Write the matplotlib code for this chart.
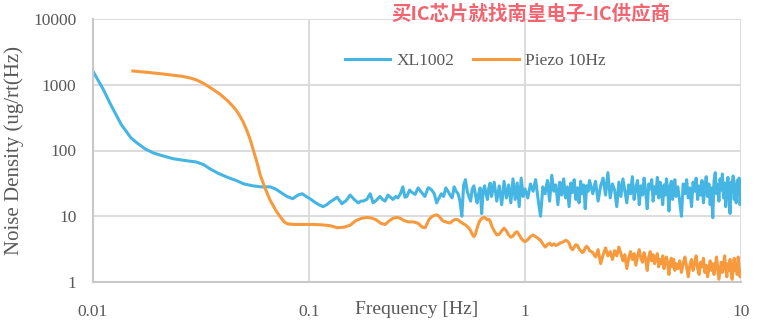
import matplotlib
matplotlib.use('Agg')
import matplotlib.pyplot as plt
import numpy as np

# XL1002 accelerometer noise density, smooth low-frequency part
xl_freq_low = [0.010, 0.0112, 0.012, 0.0135, 0.015, 0.016, 0.0175, 0.019, 0.021, 0.0235,
               0.027, 0.030, 0.0325, 0.035, 0.038, 0.042, 0.046, 0.050, 0.055, 0.060,
               0.066, 0.070, 0.074, 0.079, 0.084, 0.089, 0.093, 0.097, 0.101, 0.106,
               0.111, 0.116, 0.121, 0.125, 0.129, 0.135, 0.142, 0.149, 0.155, 0.162,
               0.169, 0.174, 0.178, 0.185, 0.192, 0.198, 0.205, 0.213, 0.219, 0.225,
               0.232, 0.238, 0.245, 0.252, 0.258, 0.265, 0.272, 0.278, 0.284, 0.292,
               0.300, 0.310, 0.320, 0.332, 0.344, 0.356]
xl_low = [1600, 830, 520, 250, 155, 130, 105, 92, 83, 75,
          70, 67, 61, 52, 45, 39, 35, 31, 29, 28,
          28, 26, 23, 20, 18.5, 21, 22, 20, 18.5, 16.5,
          15, 14, 15, 16.5, 17.5, 19.5, 15.5, 17.5, 21, 18,
          16, 17, 17, 18, 22, 16, 17.5, 20, 18, 17,
          21, 19.5, 18, 20, 19, 22, 28, 19.5, 20, 25,
          23, 21.5, 27, 23, 20, 27]

# Piezo 10Hz sensor, smooth low-frequency part
pz_freq_low = [0.0153, 0.018, 0.021, 0.0234, 0.026, 0.0281, 0.030, 0.0323, 0.035, 0.0387,
               0.042, 0.045, 0.047, 0.0495, 0.0516, 0.0535, 0.0551, 0.0575, 0.0594, 0.0625,
               0.066, 0.070, 0.0733, 0.0765, 0.0792, 0.085, 0.095, 0.105, 0.115, 0.125,
               0.135, 0.145, 0.155, 0.165, 0.175, 0.185, 0.195, 0.205, 0.215, 0.225,
               0.235, 0.245, 0.255, 0.265, 0.275, 0.290, 0.305, 0.320, 0.335, 0.345]
pz_low = [1620, 1540, 1460, 1400, 1340, 1270, 1190, 1060, 900, 720,
          570, 450, 370, 275, 200, 145, 105, 65, 43, 27,
          17.7, 12.5, 10, 8.3, 7.7, 7.5, 7.5, 7.5, 7.4, 7.2,
          6.7, 6.8, 7.3, 8.6, 9.3, 9.6, 9.4, 8.8, 7.8, 7.5,
          8.5, 9.3, 9.6, 9.3, 8.6, 8.2, 8.2, 7.8, 6.8, 6.7]

# shared frequency bins for the noisy part of both spectra
freq_high = [0.36, 0.37, 0.38, 0.39, 0.40, 0.41, 0.42, 0.43, 0.44, 0.45, 0.46, 0.47, 0.48, 0.49, 0.50,
             0.51, 0.52, 0.53, 0.54, 0.55, 0.56, 0.57, 0.58, 0.59, 0.60,
             0.61, 0.62, 0.63, 0.64, 0.65, 0.66, 0.67, 0.68, 0.69, 0.70,
             0.72, 0.74, 0.76, 0.78, 0.80, 0.82, 0.84, 0.86, 0.88, 0.90, 0.92, 0.94, 0.96, 0.98, 1.00,
             1.03, 1.06, 1.09, 1.12, 1.15, 1.18, 1.21, 1.24, 1.27, 1.30, 1.33, 1.36, 1.39, 1.42, 1.45,
             1.48, 1.51, 1.54, 1.57, 1.60, 1.63, 1.66, 1.69, 1.72, 1.75, 1.78, 1.81, 1.84, 1.87, 1.90,
             1.93, 1.96, 1.99,
             2.06, 2.12, 2.18, 2.24, 2.30, 2.36, 2.42, 2.48, 2.54, 2.60, 2.66, 2.72, 2.78, 2.84, 2.90,
             2.96, 3.02, 3.08, 3.14, 3.20, 3.26, 3.32, 3.38, 3.44, 3.50, 3.56, 3.62, 3.68, 3.74, 3.80,
             3.86, 3.92, 3.98, 4.04, 4.10, 4.16, 4.22, 4.28, 4.34, 4.40, 4.46, 4.52, 4.58, 4.64, 4.70,
             4.76, 4.82, 4.88, 4.94, 5.00,
             5.1, 5.2, 5.3, 5.4, 5.5, 5.6, 5.7, 5.8, 5.9, 6.0, 6.1, 6.2, 6.3, 6.4, 6.5, 6.6, 6.7,
             6.8, 6.9, 7.0, 7.1, 7.2, 7.3, 7.4, 7.5, 7.6, 7.7, 7.8, 7.9, 8.0, 8.1, 8.2, 8.3, 8.4,
             8.5, 8.6, 8.7, 8.8, 8.9, 9.0, 9.1, 9.2, 9.3, 9.4, 9.5, 9.6, 9.7, 9.8, 9.9, 10.0]

xl_high = [27, 25, 22, 16, 19, 22, 20, 27, 24, 21, 19, 28, 24, 22, 17,
           10, 30, 36, 24, 20, 17, 26, 29, 21, 16,
           22, 27, 11, 24, 29, 22, 18, 27, 32, 20,
           33, 17, 29, 15, 34, 19, 30, 16, 37, 18, 32, 14, 38, 20, 26,
           19, 31, 24, 36, 18, 10, 28, 22, 35, 17, 42, 24, 30, 15, 33,
           21, 37, 19, 28, 14, 32, 23, 36, 18, 27, 16, 34, 22, 30, 13,
           29, 24, 35,
           22, 34, 17, 29, 38, 21, 46, 19, 31, 25, 14, 33, 20, 37, 24,
           16, 30, 22, 40, 18, 27, 35, 15, 29, 21, 38, 23, 13, 31, 26,
           36, 17, 28, 22, 39, 19, 33, 25, 15, 30, 21, 37, 24, 12, 29,
           34, 18, 27, 36, 20,
           28, 17, 10, 31, 22, 36, 19, 27, 14, 33, 24, 38, 18, 29, 21, 35, 16,
           26, 40, 20, 31, 15, 27, 9.5, 34, 46, 22, 30, 17, 37, 25, 44, 19, 32,
           14, 28, 39, 21, 11, 33, 24, 41, 18, 30, 16, 35, 22, 38, 15, 29]

pz_high = [9.0, 9.8, 10.3, 10.5, 10.0, 9.0, 8.4, 8.2, 8.0, 7.9, 8.4, 8.8, 9.0, 8.8, 8.3,
           8.0, 7.6, 7.4, 7.0, 6.6, 6.0, 5.3, 4.9, 5.4, 6.6,
           7.8, 8.7, 9.2, 9.5, 9.6, 9.2, 8.8, 9.0, 8.4, 7.2,
           6.0, 5.2, 5.3, 6.0, 6.6, 6.0, 5.2, 4.8, 5.0, 5.6, 5.8, 5.2, 4.6, 4.3, 4.1,
           4.4, 4.9, 5.2, 4.9, 4.6, 4.3, 3.8, 3.4, 3.7, 3.9, 3.6, 3.8, 3.6, 3.7, 3.9,
           4.0, 4.1, 4.3, 4.2, 3.9, 3.3, 3.1, 3.4, 3.7, 3.6, 3.2, 3.0, 2.8, 2.9, 3.3,
           3.5, 3.3, 3.0,
           2.8, 2.4, 3.1, 1.9, 2.6, 3.3, 2.5, 2.9, 2.2, 3.0, 2.5, 3.4, 2.7, 2.1, 2.6,
           1.6, 2.3, 2.9, 2.2, 2.7, 1.8, 2.5, 3.1, 2.3, 2.0, 2.8, 2.2, 1.5, 2.4, 2.9,
           2.1, 2.6, 1.9, 2.3, 2.7, 1.7, 2.2, 1.9, 2.5, 1.6, 2.1, 2.4, 1.8, 1.3, 2.0,
           2.3, 1.7, 2.2, 1.5, 1.9,
           1.6, 2.1, 1.4, 1.9, 2.4, 1.7, 1.2, 1.8, 2.2, 1.5, 1.9, 2.5, 1.6, 1.3, 2.0, 1.7, 2.3,
           1.4, 1.8, 1.2, 1.6, 2.1, 1.5, 1.9, 1.3, 1.7, 2.4, 1.6, 1.1, 1.5, 2.0, 1.4, 1.8, 2.5,
           1.6, 1.2, 1.9, 1.5, 2.2, 1.4, 1.1, 1.7, 2.3, 1.5, 1.9, 1.3, 2.4, 1.6, 1.2, 1.5]

series_names = ['XL1002', 'Piezo 10Hz']
series_colors = ['#45B5E3', '#F79A3E']
y_ticks = [1, 10, 100, 1000, 10000]
x_ticks = [0.01, 0.1, 1, 10]
x_tick_labels = ['0.01', '0.1', '1', '10']

plt.rcParams['font.family'] = ['Liberation Serif', 'DejaVu Serif']
text_color = '#595959'
grid_color = '#d9d9d9'

fig = plt.figure(figsize=(7.6, 3.27), dpi=100)
ax = fig.add_axes([93 / 760, 1 - 282 / 327, 648 / 760, 263 / 327])

ax.plot(xl_freq_low + freq_high, xl_low + xl_high, color=series_colors[0],
        lw=2.2, label=series_names[0], solid_joinstyle='round')
ax.plot(pz_freq_low + freq_high, pz_low + pz_high, color=series_colors[1],
        lw=2.2, label=series_names[1], solid_joinstyle='round')

ax.set_xscale('log')
ax.set_yscale('log')
ax.set_xlim(0.01, 10)
ax.set_ylim(1, 10000)
ax.set_xticks(x_ticks)
ax.set_xticklabels(x_tick_labels)
ax.set_yticks(y_ticks)
ax.set_yticklabels([str(v) for v in y_ticks])
ax.minorticks_off()
ax.tick_params(length=0, labelsize=12.5, colors=text_color)
ax.tick_params(axis='x', pad=16)
ax.tick_params(axis='y', pad=12)

ax.grid(True, color=grid_color, lw=1.3)
ax.set_axisbelow(True)
for side in ['top', 'right']:
    ax.spines[side].set_visible(False)
for side in ['left', 'bottom']:
    ax.spines[side].set_color('#c8c8c8')
    ax.spines[side].set_linewidth(1.5)

ax.set_xlabel('Frequency [Hz]', fontsize=14, color=text_color, va='center')
ax.xaxis.set_label_coords(0.5, -0.106)
ax.set_ylabel('Noise Density (ug/rt(Hz)', fontsize=15, color=text_color, va='center')
ax.yaxis.set_label_coords(-0.121, 0.5)

ax.legend(loc='center', bbox_to_anchor=(0.59, 0.84), ncol=2, frameon=False,
          fontsize=12.5, handlelength=2.6, handletextpad=0.35, columnspacing=1.1,
          labelcolor=text_color)

fig.text(0.699, 0.957, '买IC芯片就找南皇电子-IC供应商', color='#F2646F', fontsize=14,
         fontweight='bold', ha='center', va='center',
         family=['Noto Sans CJK SC', 'DejaVu Sans'])

fig.savefig('out.png', dpi=100)
plt.close(fig)
